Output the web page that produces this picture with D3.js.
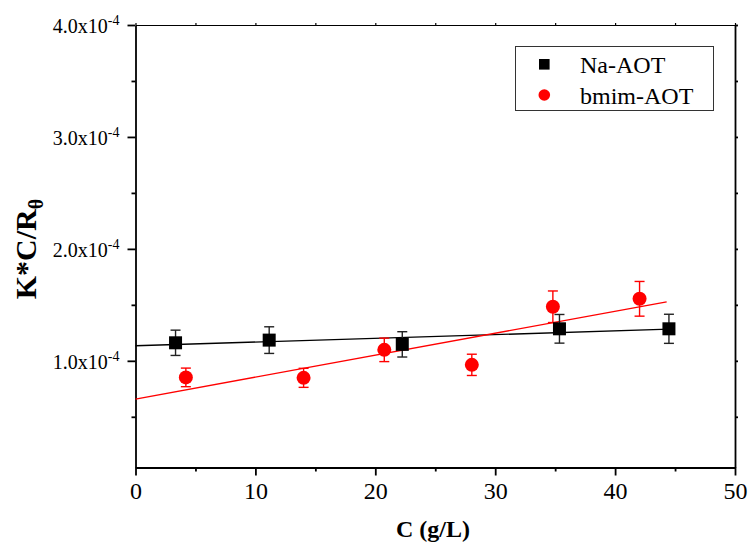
<!DOCTYPE html>
<html>
<head>
<meta charset="utf-8">
<script src="https://cdn.jsdelivr.net/npm/d3@7"></script>
<style>
  html, body { margin: 0; padding: 0; background: #fff; }
  svg { display: block; font-family: "Liberation Serif", "Times New Roman", serif; }
</style>
</head>
<body>
<svg id="chart" width="751" height="548"></svg>
<script>
// ---- data ----
const seriesNames = ["Na-AOT", "bmim-AOT"];
const naX   = [3.34, 11.15, 22.25, 35.36, 44.49];
const naY   = [1.161e-4, 1.185e-4, 1.147e-4, 1.286e-4, 1.286e-4];
const naErr = [0.113e-4, 0.119e-4, 0.113e-4, 0.128e-4, 0.130e-4];
const bmX   = [4.20, 14.02, 20.75, 28.05, 34.81, 42.04];
const bmY   = [0.852e-4, 0.848e-4, 1.098e-4, 0.964e-4, 1.483e-4, 1.554e-4];
const bmErr = [0.083e-4, 0.085e-4, 0.105e-4, 0.095e-4, 0.141e-4, 0.155e-4];
const naFitX = [0, 44.5];
const naFitY = [1.134e-4, 1.283e-4];
const bmFitX = [0, 44.3];
const bmFitY = [0.658e-4, 1.527e-4];
const xTicks = [0, 10, 20, 30, 40, 50];
const xMinor = [5, 15, 25, 35, 45];
const yTicks = [1e-4, 2e-4, 3e-4, 4e-4];
const yTickLabels = ["1.0x10", "2.0x10", "3.0x10", "4.0x10"];
const yTickExp = "-4";
const yMinor = [0.5e-4, 1.5e-4, 2.5e-4, 3.5e-4];
const xDomain = [0, 50];
const yDomain = [0.047e-4, 4e-4];

// ---- layout ----
const L = 135.5, R = 735, T = 25, B = 467.5;
const svg = d3.select("#chart");
const x = d3.scaleLinear().domain(xDomain).range([L, R]);
const y = d3.scaleLinear().domain(yDomain).range([B, T]);

// frame: top & right thin mirrored axes
function axisStyle(g, w) {
  g.select(".domain").attr("stroke", "#000").attr("stroke-width", w);
  g.selectAll(".tick line").attr("stroke", "#000").attr("stroke-width", w);
}
const gTop = svg.append("g").attr("transform", `translate(0,${T})`)
  .call(d3.axisTop(x).tickValues(xTicks.concat(xMinor)).tickSize(2).tickSizeOuter(0).tickFormat(""));
axisStyle(gTop, 1.2);
const gRight = svg.append("g").attr("transform", `translate(${R},0)`)
  .call(d3.axisRight(y).tickValues(yTicks.concat(yMinor)).tickSize(3).tickSizeOuter(0).tickFormat(""));
axisStyle(gRight, 1.8);

// bottom axis
const gBx = svg.append("g").attr("transform", `translate(0,${B})`)
  .call(d3.axisBottom(x).tickValues(xTicks).tickSize(8).tickSizeOuter(0).tickPadding(6));
axisStyle(gBx, 1.8);
gBx.selectAll(".tick text").attr("font-size", 24).attr("font-family", "Liberation Serif").attr("fill", "#000")
  .attr("dy", null).attr("y", 31);
const gBm = svg.append("g").attr("transform", `translate(0,${B})`)
  .call(d3.axisBottom(x).tickValues(xMinor).tickSize(4).tickSizeOuter(0).tickFormat(""));
axisStyle(gBm, 1.8);
gBm.select(".domain").remove();

// left axis
const gLy = svg.append("g").attr("transform", `translate(${L},0)`)
  .call(d3.axisLeft(y).tickValues(yTicks).tickSize(8).tickSizeOuter(0).tickFormat(""));
axisStyle(gLy, 1.8);
gLy.selectAll(".tick").each(function(d, i) {
  const t = d3.select(this).append("text")
    .attr("x", -16).attr("y", 7.5)
    .attr("text-anchor", "end")
    .attr("font-size", 20).attr("fill", "#000").attr("font-family", "Liberation Serif");
  t.append("tspan").text(yTickLabels[i]);
  t.append("tspan").attr("font-size", 14).attr("dy", -8).text(yTickExp);
});
const gLm = svg.append("g").attr("transform", `translate(${L},0)`)
  .call(d3.axisLeft(y).tickValues(yMinor).tickSize(4).tickSizeOuter(0).tickFormat(""));
axisStyle(gLm, 1.8);
gLm.select(".domain").remove();

// axis titles
svg.append("text").attr("x", 433).attr("y", 537).attr("text-anchor", "middle")
  .attr("font-size", 24).attr("font-weight", "bold").text("C (g/L)");
const yl = svg.append("text").attr("transform", "translate(36,249) rotate(-90)")
  .attr("text-anchor", "middle").attr("font-size", 30).attr("font-weight", "bold");
yl.append("tspan").text("K*C/R");
yl.append("tspan").attr("font-size", 20).attr("dy", 7).text("θ");

// fit lines
const line = d3.line().x(d => x(d[0])).y(d => y(d[1]));
svg.append("path").datum(d3.zip(naFitX, naFitY)).attr("d", line)
  .attr("fill", "none").attr("stroke", "#000").attr("stroke-width", 1.4);
svg.append("path").datum(d3.zip(bmFitX, bmFitY)).attr("d", line)
  .attr("fill", "none").attr("stroke", "#ff0000").attr("stroke-width", 1.4);

// error bars
function errBars(xs, ys, es, color) {
  const g = svg.append("g").attr("stroke", color).attr("stroke-width", 1.4).attr("fill", "none");
  xs.forEach((xv, i) => {
    const cx = x(xv), y1 = y(ys[i] + es[i]), y2 = y(ys[i] - es[i]);
    g.append("line").attr("x1", cx).attr("x2", cx).attr("y1", y1).attr("y2", y2);
    g.append("line").attr("x1", cx - 5).attr("x2", cx + 5).attr("y1", y1).attr("y2", y1);
    g.append("line").attr("x1", cx - 5).attr("x2", cx + 5).attr("y1", y2).attr("y2", y2);
  });
}
errBars(naX, naY, naErr, "#222");
errBars(bmX, bmY, bmErr, "#ff0000");

// markers
const sq = 13;
svg.append("g").selectAll("rect").data(d3.zip(naX, naY)).join("rect")
  .attr("x", d => x(d[0]) - sq / 2).attr("y", d => y(d[1]) - sq / 2)
  .attr("width", sq).attr("height", sq).attr("fill", "#000");
svg.append("g").selectAll("circle").data(d3.zip(bmX, bmY)).join("circle")
  .attr("cx", d => x(d[0])).attr("cy", d => y(d[1])).attr("r", 7).attr("fill", "#ff0000");

// legend
const lg = svg.append("g");
lg.append("rect").attr("x", 515.5).attr("y", 46.5).attr("width", 198).attr("height", 64)
  .attr("fill", "#fff").attr("stroke", "#333").attr("stroke-width", 1);
lg.append("rect").attr("x", 544.3 - 5.3).attr("y", 64.3 - 5.3).attr("width", 10.6).attr("height", 10.6).attr("fill", "#000");
lg.append("circle").attr("cx", 544.3).attr("cy", 95).attr("r", 5.8).attr("fill", "#ff0000");
lg.append("text").attr("x", 580).attr("y", 72.5).attr("font-size", 24).text(seriesNames[0]);
lg.append("text").attr("x", 580).attr("y", 103.5).attr("font-size", 24).text(seriesNames[1]);
</script>
</body>
</html>
